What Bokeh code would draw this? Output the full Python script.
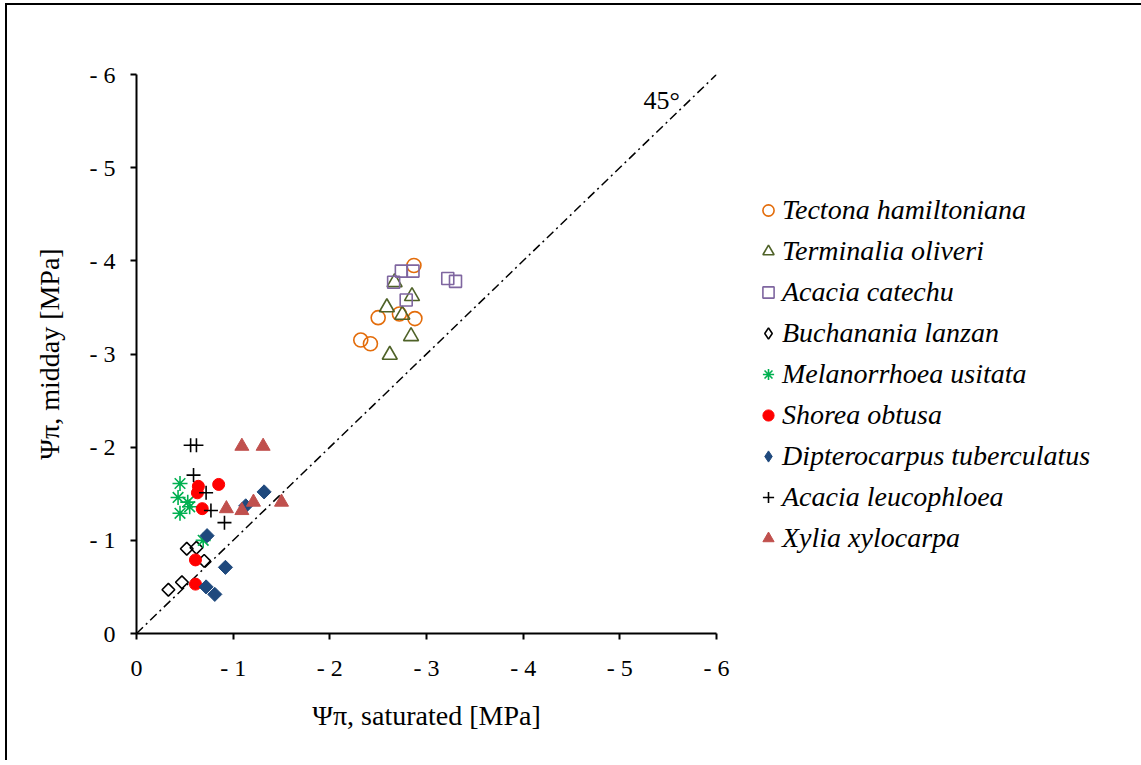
import math
from bokeh.plotting import figure
from bokeh.models import Range1d, FixedTicker, CustomJSTickFormatter, Label, Legend
from bokeh.embed import file_html
from bokeh.resources import INLINE

# ---- data (MPa, osmotic potential) ----
ticks = [0, -1, -2, -3, -4, -5, -6]
diag = [0, -6]

tectona_sat = [-2.32, -2.42, -2.50, -2.72, -2.88, -2.87]
tectona_mid = [-3.15, -3.11, -3.39, -3.43, -3.38, -3.95]

terminalia_sat = [-2.59, -2.67, -2.85, -2.75, -2.84, -2.62]
terminalia_mid = [-3.50, -3.77, -3.62, -3.42, -3.19, -2.99]

catechu_sat = [-2.74, -2.86, -2.66, -3.22, -3.30, -2.79]
catechu_mid = [-3.89, -3.89, -3.77, -3.81, -3.78, -3.58]

buchanania_sat = [-0.52, -0.62, -0.70, -0.47, -0.33]
buchanania_mid = [-0.91, -0.92, -0.78, -0.55, -0.47]

melanorrhoea_sat = [-0.45, -0.43, -0.53, -0.55, -0.45, -0.69]
melanorrhoea_mid = [-1.61, -1.46, -1.41, -1.36, -1.29, -1.00]

shorea_sat = [-0.64, -0.63, -0.85, -0.68, -0.61, -0.61]
shorea_mid = [-1.58, -1.51, -1.60, -1.34, -0.79, -0.53]

diptero_sat = [-1.32, -1.13, -0.73, -0.92, -0.72, -0.81]
diptero_mid = [-1.52, -1.37, -1.05, -0.71, -0.50, -0.42]

leuco_sat = [-0.56, -0.62, -0.59, -0.72, -0.77, -0.91]
leuco_mid = [-2.02, -2.02, -1.70, -1.51, -1.32, -1.19]

xylia_sat = [-1.09, -1.31, -0.93, -1.09, -1.21, -1.50]
xylia_mid = [-2.01, -2.01, -1.34, -1.32, -1.41, -1.41]

FONT = "Liberation Serif"
NAN = [float("nan")]

p = figure(frame_width=580, frame_height=559, output_backend="svg", toolbar_location=None,
           x_range=Range1d(0, -6), y_range=Range1d(0, -6),
           min_border_left=136, min_border_right=0, min_border_top=74,
           min_border_bottom=127)
p.xgrid.visible = False
p.ygrid.visible = False
p.outline_line_color = None
p.background_fill_color = "white"
p.border_fill_color = None
# chart-area border: only its top and left edges fall inside the crop
p.styles = {"background": ("linear-gradient(#000, #000) 5px 3px / 100% 2px no-repeat, "
                           "linear-gradient(#000, #000) 5px 3px / 2px 100% no-repeat, "
                           "#ffffff")}

fmt_code = "return tick == 0 ? '0' : '- ' + Math.abs(tick);"
for ax in (p.xaxis[0], p.yaxis[0]):
    ax.ticker = FixedTicker(ticks=ticks)
    ax.formatter = CustomJSTickFormatter(code=fmt_code)
    ax.axis_line_width = 2
    ax.axis_line_color = "black"
    ax.major_tick_line_width = 2
    ax.major_tick_line_color = "black"
    ax.major_tick_out = 6
    ax.major_tick_in = 0
    ax.minor_tick_line_color = None
    ax.major_label_text_font = FONT
    ax.major_label_text_font_size = "24px"
    ax.major_label_text_color = "black"
    ax.major_label_standoff = 15
    ax.axis_label_text_font = FONT
    ax.axis_label_text_font_size = "28px"
    ax.axis_label_text_font_style = "normal"
    ax.axis_label_text_color = "black"

p.xaxis.axis_label = "Ψπ, saturated [MPa]"
p.yaxis.axis_label = "Ψπ, midday [MPa]"
p.xaxis.axis_label_standoff = 16
p.yaxis.axis_label_standoff = 22

# 1:1 line
p.line(diag, diag, line_color="black", line_width=1.5, line_dash="9 4 2 4")

rot = math.pi / 4
r1 = p.scatter(tectona_sat, tectona_mid, marker="circle", size=14, fill_color=None,
               line_color="#E36C0A", line_width=1.6)
r2 = p.scatter(terminalia_sat, terminalia_mid, marker="triangle", size=15, fill_color=None,
               line_color="#4F6228", line_width=1.6)
r3 = p.scatter(catechu_sat, catechu_mid, marker="square", size=12, fill_color=None,
               line_color="#7F66A0", line_width=1.6)
r4 = p.scatter(buchanania_sat, buchanania_mid, marker="square", angle=rot, size=9,
               fill_color=None, line_color="black", line_width=1.6)
r5 = p.scatter(melanorrhoea_sat, melanorrhoea_mid, marker="asterisk", size=15,
               line_color="#00B050", line_width=1.6)
r6 = p.scatter(shorea_sat, shorea_mid, marker="circle", size=12, fill_color="#FF0000",
               line_color="#FF0000")
r7 = p.scatter(diptero_sat, diptero_mid, marker="square", angle=rot, size=10,
               fill_color="#1F497D", line_color="#1F497D")
r8 = p.scatter(leuco_sat, leuco_mid, marker="cross", size=14,
               line_color="black", line_width=1.6)
r9 = p.scatter(xylia_sat, xylia_mid, marker="triangle", size=14, fill_color="#C0504D",
               line_color="#C0504D")

# legend swatches for the diamond series (legend glyphs are never rotated)
k4 = p.scatter(x=NAN, y=NAN, marker="diamond", fill_color=None, line_color="black",
               line_width=1.6)
k7 = p.scatter(x=NAN, y=NAN, marker="diamond", fill_color="#1F497D", line_color="#1F497D")

p.add_layout(Label(x=-5.245, y=-5.72, text="45°", text_font=FONT,
                   text_font_size="26px", text_color="black",
                   text_baseline="alphabetic"))

lg = Legend(items=[
    ("Tectona hamiltoniana", [r1]),
    ("Terminalia oliveri", [r2]),
    ("Acacia catechu", [r3]),
    ("Buchanania lanzan", [k4]),
    ("Melanorrhoea usitata", [r5]),
    ("Shorea obtusa", [r6]),
    ("Dipterocarpus tuberculatus", [k7]),
    ("Acacia leucophloea", [r8]),
    ("Xylia xylocarpa", [r9]),
])
lg.location = (38, 75)
lg.background_fill_alpha = 0
lg.border_line_color = None
lg.label_text_font = FONT
lg.label_text_font_style = "italic"
lg.label_text_font_size = "28px"
lg.label_text_color = "black"
lg.glyph_width = 28
lg.glyph_height = 40
lg.label_height = 40
lg.spacing = 1
lg.padding = 0
lg.margin = 0
lg.label_standoff = 0
p.add_layout(lg, "right")

open("out.html", "w").write(file_html(p, INLINE))
